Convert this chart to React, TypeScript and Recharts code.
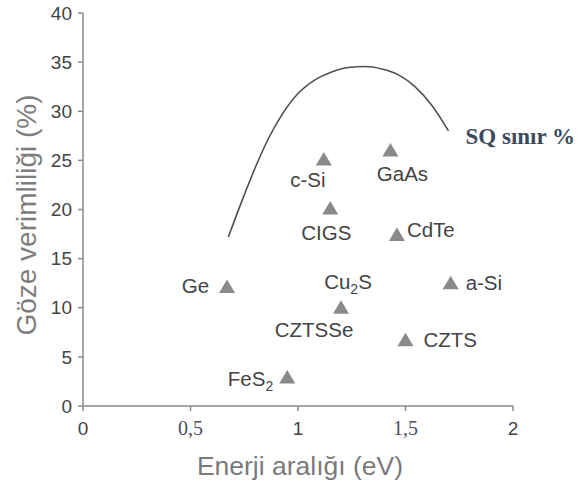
import { ComposedChart, Line, Scatter, XAxis, YAxis } from 'recharts';

// Shockley–Queisser limit curve (band gap eV, efficiency %)
const sqCurve = [
  { x: 0.676, y: 17.2 },
  { x: 0.738, y: 20.8 },
  { x: 0.8, y: 24.2 },
  { x: 0.862, y: 27.2 },
  { x: 0.924, y: 29.6 },
  { x: 1.0, y: 31.8 },
  { x: 1.079, y: 33.2 },
  { x: 1.157, y: 34.0 },
  { x: 1.234, y: 34.45 },
  { x: 1.312, y: 34.55 },
  { x: 1.39, y: 34.3 },
  { x: 1.467, y: 33.7 },
  { x: 1.544, y: 32.5 },
  { x: 1.622, y: 30.6 },
  { x: 1.7, y: 28.0 },
];

const materials = [
  { name: 'Ge', x: 0.67, y: 12.1 },
  { name: 'FeS2', x: 0.95, y: 2.9 },
  { name: 'c-Si', x: 1.12, y: 25.1 },
  { name: 'CIGS', x: 1.15, y: 20.1 },
  { name: 'Cu2S', x: 1.2, y: 10.0 },
  { name: 'GaAs', x: 1.43, y: 26.0 },
  { name: 'CdTe', x: 1.46, y: 17.4 },
  { name: 'CZTS', x: 1.5, y: 6.7 },
  { name: 'a-Si', x: 1.71, y: 12.5 },
];

const xTicks = [0, 0.5, 1, 1.5, 2];
const xTickLabels = ['0', '0,5', '1', '1,5', '2'];
const yTicks = [0, 5, 10, 15, 20, 25, 30, 35, 40];

// label placement relative to each marker
const labelPlacement: Record<string, { dx: number; dy: number; anchor: string }> = {
  Ge: { dx: -18, dy: 6, anchor: 'end' },
  FeS2: { dx: -14, dy: 8, anchor: 'end' },
  'c-Si': { dx: -16, dy: 28, anchor: 'middle' },
  CIGS: { dx: -4, dy: 31, anchor: 'middle' },
  Cu2S: { dx: 7, dy: -19, anchor: 'middle' },
  GaAs: { dx: 12, dy: 30, anchor: 'middle' },
  CdTe: { dx: 10, dy: 2, anchor: 'start' },
  CZTS: { dx: 18, dy: 7, anchor: 'start' },
  'a-Si': { dx: 15, dy: 7, anchor: 'start' },
};
const CZTSSE = { name: 'CZTSSe', dx: -27, dy: 29 };

const GRAY = '#8a8a8a';
const TEXT = '#444';
const SANS = '"Liberation Sans", Arial, sans-serif';
const SERIF = '"Liberation Serif", "Times New Roman", serif';

function ChemLabel({ x, y, text, anchor }: { x: number; y: number; text: string; anchor: string }) {
  const parts = text.split(/(\d)/).filter(Boolean);
  return (
    <text x={x} y={y} textAnchor={anchor} fontFamily={SANS} fontSize={20.5} fill={TEXT}>
      {parts.map((p, i) =>
        /\d/.test(p) ? (
          <tspan key={i} fontSize={14} dy={5}>{p}</tspan>
        ) : (
          <tspan key={i} dy={i > 0 && /\d/.test(parts[i - 1]) ? -5 : 0}>{p}</tspan>
        )
      )}
    </text>
  );
}

function TriangleMarker(props: any) {
  const { cx, cy, payload } = props;
  const p = labelPlacement[payload.name];
  return (
    <g>
      <polygon points={`${cx},${cy - 7.5} ${cx - 8},${cy + 6} ${cx + 8},${cy + 6}`} fill={GRAY} />
      <ChemLabel x={cx + p.dx} y={cy + p.dy} text={payload.name} anchor={p.anchor} />
      {payload.name === 'Cu2S' && (
        <ChemLabel x={cx + CZTSSE.dx} y={cy + CZTSSE.dy} text={CZTSSE.name} anchor="middle" />
      )}
    </g>
  );
}

function XTick(props: any) {
  const { x, y, payload, index } = props;
  const label = xTickLabels[index];
  const serif = label.includes(',');
  return (
    <text x={x} y={y + 22} textAnchor="middle" fontFamily={serif ? SERIF : SANS} fontSize={serif ? 20 : 19} fill={serif ? '#4a5060' : TEXT}>
      {label ?? payload.value}
    </text>
  );
}

function SqLabel(props: any) {
  const { x, y, index } = props;
  if (index !== sqCurve.length - 1) return null;
  return (
    <text x={x + 17} y={y + 13} fontFamily={SERIF} fontSize={23} fontWeight="bold" fill="#3e4a5c">
      SQ sınır %
    </text>
  );
}

export default function App() {
  return (
    <div style={{ position: 'absolute', left: 0, top: 0, width: 583, height: 488, background: '#fff' }}>
      <ComposedChart width={583} height={488} margin={{ top: 13, right: 70, bottom: 52, left: 43 }}>
        <XAxis
          type="number"
          dataKey="x"
          domain={[0, 2]}
          ticks={xTicks}
          allowDataOverflow
          height={30}
          axisLine={{ stroke: GRAY, strokeWidth: 1.5 }}
          tickLine={{ stroke: GRAY, strokeWidth: 1.5 }}
          tickSize={5}
          tick={<XTick />}
          label={{
            content: () => (
              <text x={300} y={475} textAnchor="middle" fontFamily={SANS} fontSize={26.5} fill="#7a7a7a">
                Enerji aralığı (eV)
              </text>
            ),
          }}
        />
        <YAxis
          type="number"
          dataKey="y"
          domain={[0, 40]}
          ticks={yTicks}
          width={40}
          axisLine={{ stroke: GRAY, strokeWidth: 1.5 }}
          tickLine={{ stroke: GRAY, strokeWidth: 1.5 }}
          tickSize={5}
          tickMargin={6}
          tick={{ fill: TEXT, fontSize: 19, fontFamily: SANS }}
          label={{
            content: () => (
              <text
                x={26}
                y={215}
                transform="rotate(-90, 26, 215)"
                textAnchor="middle"
                dominantBaseline="central"
                fontFamily={SANS}
                fontSize={28}
                fill="#7d7d7d"
              >
                Göze verimliliği (%)
              </text>
            ),
          }}
        />
        <Line
          data={sqCurve}
          dataKey="y"
          type="monotone"
          stroke="#505050"
          strokeWidth={1.6}
          dot={false}
          activeDot={false}
          label={<SqLabel />}
          isAnimationActive={false}
        />
        <Scatter data={materials} dataKey="y" shape={<TriangleMarker />} isAnimationActive={false} />
      </ComposedChart>
    </div>
  );
}
